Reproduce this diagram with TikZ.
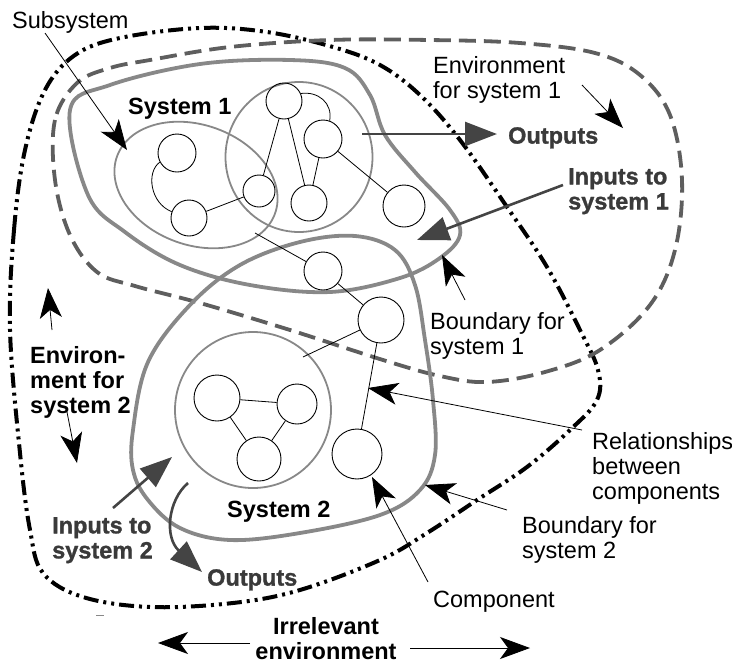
\documentclass[tikz,border=0pt]{standalone}
\usepackage{fontspec}
\setmainfont{Liberation Sans}
\newfontfamily\heavyfont[BoldFeatures={FakeBold=1.2}]{Liberation Sans}
\usetikzlibrary{arrows.meta}

\definecolor{bndgray}{HTML}{888888}
\definecolor{envgray}{HTML}{5E5E5E}
\definecolor{flowgray}{HTML}{444444}
\definecolor{flowtext}{HTML}{3A3A3A}

\tikzset{
  comp/.style={circle, draw=black, line width=0.9pt, inner sep=0pt},
  link/.style={draw=black, line width=0.8pt},
  pointer/.style={draw=black, line width=0.8pt, -{Stealth[length=30pt,width=22pt,inset=8pt]}},
  flow/.style={draw=flowgray, line width=2.6pt, -{Triangle[length=32pt,width=24pt]}},
  txt/.style={anchor=north west, inner sep=0pt, align=left, font=\fontsize{23.5}{25}\selectfont},
  btxt/.style={txt, font=\fontsize{23.5}{25}\selectfont\bfseries},
  ftxt/.style={btxt, text=flowtext, font=\fontsize{23.5}{25}\selectfont\heavyfont\bfseries},
  sysbnd/.style={draw=bndgray, line width=3.8pt},
  subbnd/.style={draw=bndgray, line width=1.8pt},
  envbnd/.style={draw=envgray, line width=3.8pt, dash pattern=on 17pt off 8pt},
  outerbnd/.style={draw=black, line width=4pt, dash pattern=on 15pt off 5pt on 3pt off 5pt on 3pt off 5pt},
}

\begin{document}
\begin{tikzpicture}[x=1pt, y=-1pt]
\useasboundingbox (0,0) rectangle (732,665);

% irrelevant environment boundary (dash-dot-dot)
\draw[outerbnd] plot[smooth cycle, tension=0.6] coordinates {
  (10,330) (14,230) (25,150) (45,90) (75,55) (120,38) (200,28) (267,32)
  (333,47) (380,65) (420,95) (460,140) (507,207) (547,267) (580,330)
  (598,370) (597,400) (570,430) (527,467) (477,500) (427,533) (380,560)
  (300,590) (233,603) (150,607) (83,597) (43,573) (30,530) (20,453)};

% environment of system 1 (dashed)
\draw[envbnd] plot[smooth cycle, tension=0.6] coordinates {
  (77,83) (55,120) (55,180) (70,235) (97,272) (135,286) (200,303)
  (290,330) (383,360) (440,376) (487,382) (545,372) (600,350) (650,305)
  (675,250) (682,180) (670,115) (640,75) (595,53) (520,43) (430,40)
  (330,40) (230,47) (150,60) (110,68)};

% system 1 boundary
\draw[sysbnd] plot[smooth cycle, tension=0.6] coordinates {
  (70,110) (110,85) (200,64) (290,60) (345,68) (370,95) (385,135)
  (415,172) (450,210) (460,235) (440,258) (400,278) (330,292)
  (250,285) (180,265) (125,232) (88,195)};

% system 2 boundary
\draw[sysbnd] plot[smooth cycle, tension=0.6] coordinates {
  (133,430) (148,362) (190,305) (240,265) (300,242) (355,236)
  (395,250) (415,285) (425,340) (433,400) (435,455) (420,490)
  (380,515) (300,533) (230,540) (180,528) (148,500) (133,470)};

% subsystems
\draw[subbnd, shift={(196,185)}, rotate=-20] (0,0) ellipse [x radius=84, y radius=60];
\draw[subbnd] (299,157) ellipse [x radius=73.5, y radius=75];
\node[circle, draw=bndgray, line width=1.8pt, minimum width=150pt, minimum height=156pt, inner sep=0pt] (subC) at (253,410) {};

% components
\node[comp, minimum size=38pt] (A) at (177,153) {};
\node[comp, minimum size=36pt] (B) at (189,218) {};
\node[comp, minimum size=32pt] (C) at (259,191) {};
\node[comp, minimum size=36pt] (D) at (284,101) {};
\node[comp, minimum size=38pt] (E) at (323,139) {};
\node[comp, minimum size=36pt] (F) at (309,203) {};
\node[comp, minimum size=42pt] (G) at (404,206) {};
\node[comp, minimum size=38pt] (H) at (323,271) {};
\node[comp, minimum size=46pt] (I) at (381,320) {};
\node[comp, minimum size=46pt] (J) at (217,398) {};
\node[comp, minimum size=40pt] (K) at (297,404) {};
\node[comp, minimum size=44pt] (L) at (259,459) {};
\node[comp, minimum size=50pt] (M) at (357,454) {};
\coordinate (subAedge) at (255,233);
\coordinate (subCedge) at (303,357);

% relationships
\draw[link] (A.208) .. controls (146,172) and (150,203) .. (B.160);
\draw[link] (B) -- (C);
\draw[link] (C) -- (D);
\draw[link] (D) -- (F);
\draw[link] (D.24) .. controls (318,91) and (333,103) .. (E.70);
\draw[link] (E) -- (F);
\draw[link] (E) -- (G);
\draw[link] (subAedge) -- (H);
\draw[link] (H) -- (I);
\draw[link] (I) -- (subCedge);
\draw[link] (I) -- (M);
\draw[link] (J) -- (K);
\draw[link] (J) -- (L);
\draw[link] (K) -- (L);

% labels
\node[txt] (tSub) at (12,11) {Subsystem};
\node[txt] (tEnv1) at (433,56) {Environment\\for system 1};
\node[btxt] (tSys1) at (128,98) {System 1};
\node[ftxt] (tOut1) at (508,127) {Outputs};
\node[ftxt] (tIn1) at (568,168) {Inputs to\\system 1};
\node[txt] (tBnd1) at (430,312) {Boundary for\\system 1};
\node[btxt] (tEnv2) at (30,346) {Environ-\\ment for\\system 2};
\node[txt] (tRel) at (592,432) {Relationships\\between\\components};
\node[txt] (tBnd2) at (522,516) {Boundary for\\system 2};
\node[txt] (tComp) at (433,591) {Component};
\node[btxt] (tSys2) at (227,501) {System 2};
\node[ftxt] (tIn2) at (52,517) {Inputs to\\system 2};
\node[ftxt] (tOut2) at (207,569) {Outputs};
\node[btxt, anchor=north, align=center] (tIrr) at (326,617) {Irrelevant\\environment};

% pointer ends
\coordinate (pSubA) at (45,33);   \coordinate (pSubB) at (127,150);
\coordinate (pEnvA) at (582,85);  \coordinate (pEnvB) at (623,128);
\coordinate (pBndA) at (465,300); \coordinate (pBndB) at (442,255);
\coordinate (pRelA) at (582,430); \coordinate (pRelB) at (368,388);
\coordinate (pB2A) at (507,510);  \coordinate (pB2B) at (425,485);
\coordinate (pCmpA) at (428,582); \coordinate (pCmpB) at (372,477);
\coordinate (pIrL) at (250,643);  \coordinate (pIrLB) at (158,643);
\coordinate (pIrR) at (410,648);  \coordinate (pIrRB) at (530,648);
\coordinate (pE2uA) at (52,330);  \coordinate (pE2uB) at (48,288);
\coordinate (pE2dA) at (67,412);  \coordinate (pE2dB) at (77,463);

\draw[pointer] (pSubA) -- (pSubB);
\draw[pointer] (pEnvA) -- (pEnvB);
\draw[pointer] (pBndA) -- (pBndB);
\draw[pointer] (pRelA) -- (pRelB);
\draw[pointer] (pB2A) -- (pB2B);
\draw[pointer] (pCmpA) -- (pCmpB);
\draw[pointer] (pIrL) -- (pIrLB);
\draw[pointer] (pIrR) -- (pIrRB);
\draw[pointer] (pE2uA) -- (pE2uB);
\draw[pointer] (pE2dA) -- (pE2dB);

% flows in and out
\coordinate (fO1A) at (362,134); \coordinate (fO1B) at (497,134);
\coordinate (fI1A) at (563,185); \coordinate (fI1B) at (417,240);
\coordinate (fI2A) at (113,508); \coordinate (fI2B) at (172,457);
\coordinate (fO2A) at (188,483); \coordinate (fO2B) at (202,572);
\draw[flow] (fO1A) -- (fO1B);
\draw[flow] (fI1A) -- (fI1B);
\draw[flow] (fI2A) -- (fI2B);
\draw[flow] (fO2A) .. controls (168,500) and (164,537) .. (fO2B);

% small stray mark below the outer boundary
\coordinate (mk1) at (96,615); \coordinate (mk2) at (104,615);
\draw[bndgray, line width=1pt] (mk1) -- (mk2);
\end{tikzpicture}
\end{document}
